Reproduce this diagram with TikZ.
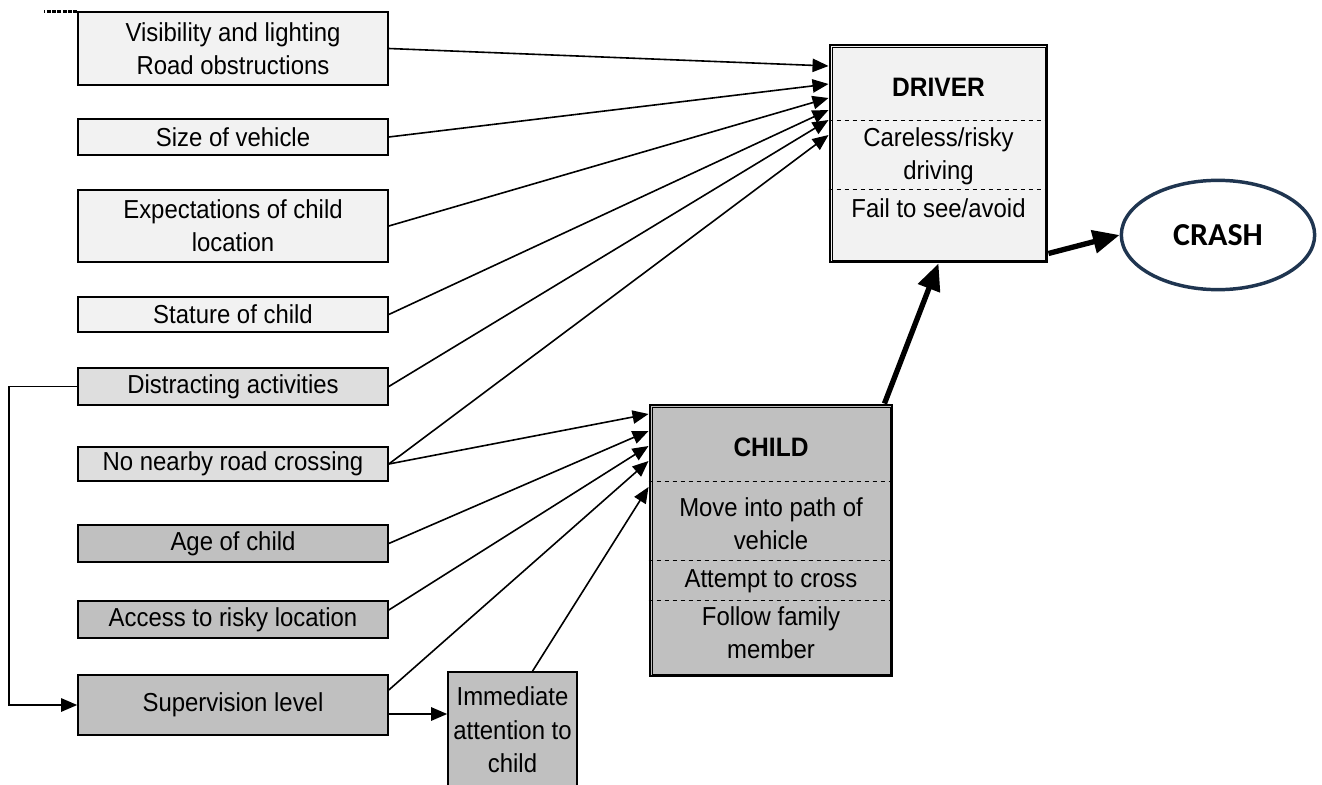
\documentclass[tikz,border=0pt]{standalone}
\usepackage{fontspec}
\setmainfont{Liberation Sans}[FakeStretch=0.92]
\newfontfamily\crashfont{Carlito}
\usetikzlibrary{arrows.meta, shapes.geometric}

\definecolor{lightbox}{HTML}{F2F2F2}
\definecolor{hatchbox}{HTML}{DEDEDE}
\definecolor{darkbox}{HTML}{C0C0C0}
\definecolor{crashblue}{HTML}{1F3550}

\tikzset{
  factor/.style={draw, line width=1.2pt, minimum width=232.5pt, inner sep=0pt, align=center},
  actor/.style={draw, line width=2.2pt, inner sep=0pt},
  feed/.style={-{Triangle[length=12pt,width=10pt]}, line width=1.2pt},
  bigfeed/.style={-{Triangle[length=20pt,width=17pt]}, line width=4pt}
}

\begin{document}
\begin{tikzpicture}[x=0.75pt, y=-0.75pt, font=\fontsize{19.5}{25}\selectfont]
  \useasboundingbox (0,0) rectangle (1322,785);

  % Factores de la izquierda
  \node[factor, fill=lightbox, minimum height=54.75pt] (vis) at (233,48.5) {Visibility and lighting\\Road obstructions};
  \node[factor, fill=lightbox, minimum height=27pt] (size) at (233,137) {Size of vehicle};
  \node[factor, fill=lightbox, minimum height=54pt] (expect) at (233,226) {Expectations of child\\location};
  \node[factor, fill=lightbox, minimum height=26.25pt] (stature) at (233,314.5) {Stature of child};
  \node[factor, fill=hatchbox, minimum height=27.75pt] (distract) at (233,386.5) {Distracting activities};
  \node[factor, fill=hatchbox, minimum height=25.5pt] (nonear) at (233,464) {No nearby road crossing};
  \node[factor, fill=darkbox, minimum height=27.75pt] (age) at (233,543.5) {Age of child};
  \node[factor, fill=darkbox, minimum height=27.75pt] (access) at (233,619.5) {Access to risky location};
  \node[factor, fill=darkbox, minimum height=45pt] (superv) at (233,705) {Supervision level};
  \node[factor, fill=darkbox, minimum width=96.75pt, minimum height=87pt] (immed) at (512.5,730) {Immediate\\attention to\\child};

  % Linea discontinua arriba
  \draw[dash pattern=on 3pt off 1pt, line width=2pt] (vis.north west) -- ++(-33,0);

  % Conductor
  \node[actor, fill=lightbox, minimum width=162.75pt, minimum height=162.75pt] (driver) at (938.5,153.5) {};
  \draw[thin] ([xshift=2.5pt,yshift=-2.5pt]driver.north west) rectangle ([xshift=-2.5pt,yshift=2.5pt]driver.south east);
  \node[font=\fontsize{20}{25}\selectfont\bfseries] (drvtitle) at (938.5,87) {DRIVER};
  \node[align=center] (careless) at (938.5,156) {Careless/risky\\driving};
  \node (fail) at (938.5,208) {Fail to see/avoid};
  \draw[dashed] (driver.west |- 0,120) -- (driver.east |- 0,120);
  \draw[dashed] (driver.west |- 0,189) -- (driver.east |- 0,189);

  % Nino
  \node[actor, fill=darkbox, minimum width=181.5pt, minimum height=203.25pt] (child) at (771,540.5) {};
  \draw[thin] ([xshift=2.5pt,yshift=-2.5pt]child.north west) rectangle ([xshift=-2.5pt,yshift=2.5pt]child.south east);
  \node[font=\fontsize{20}{25}\selectfont\bfseries] (chtitle) at (771,447) {CHILD};
  \node[align=center] (move) at (771,524) {Move into path of\\vehicle};
  \node (attempt) at (771,581) {Attempt to cross};
  \node[align=center] (follow) at (771,633) {Follow family\\member};
  \draw[dashed] (child.west |- 0,481) -- (child.east |- 0,481);
  \draw[dashed] (child.west |- 0,560) -- (child.east |- 0,560);
  \draw[dashed] (child.west |- 0,600) -- (child.east |- 0,600);

  % Choque
  \node[draw=crashblue, line width=2.6pt, ellipse, minimum width=145pt, minimum height=82pt,
        font=\fontsize{24}{25}\crashfont\bfseries] (crash) at (1218,235) {CRASH};

  % Flechas hacia el conductor
  \draw[feed] (vis.east) -- (driver.west |- 0,66);
  \draw[feed] (size.east) -- (driver.west |- 0,84);
  \draw[feed] (expect.east) -- (driver.west |- 0,98);
  \draw[feed] (stature.east) -- (driver.west |- 0,110);
  \draw[feed] (distract.east) -- (driver.west |- 0,120);
  \draw[feed] (nonear.east) -- (driver.west |- 0,135);

  % Flechas hacia el nino
  \draw[feed] (nonear.east) -- (child.west |- 0,414);
  \draw[feed] (age.east) -- (child.west |- 0,431);
  \draw[feed] (access.east |- 0,610) -- (child.west |- 0,446);
  \draw[feed] (superv.east |- 0,690) -- (child.west |- 0,461);
  \draw[feed] ([xshift=15pt]immed.north) -- (child.west |- 0,487);

  % Supervision
  \draw[feed] (distract.west) -- ++(-68,0) |- (superv.west);
  \draw[feed] (superv.east |- 0,714) -- (immed.west |- 0,714);

  % Flechas gruesas
  \draw[bigfeed] ([xshift=-6.75pt]child.north east) -- (driver.south);
  \draw[bigfeed] ([yshift=7.5pt]driver.south east) -- (crash.west);
\end{tikzpicture}
\end{document}
